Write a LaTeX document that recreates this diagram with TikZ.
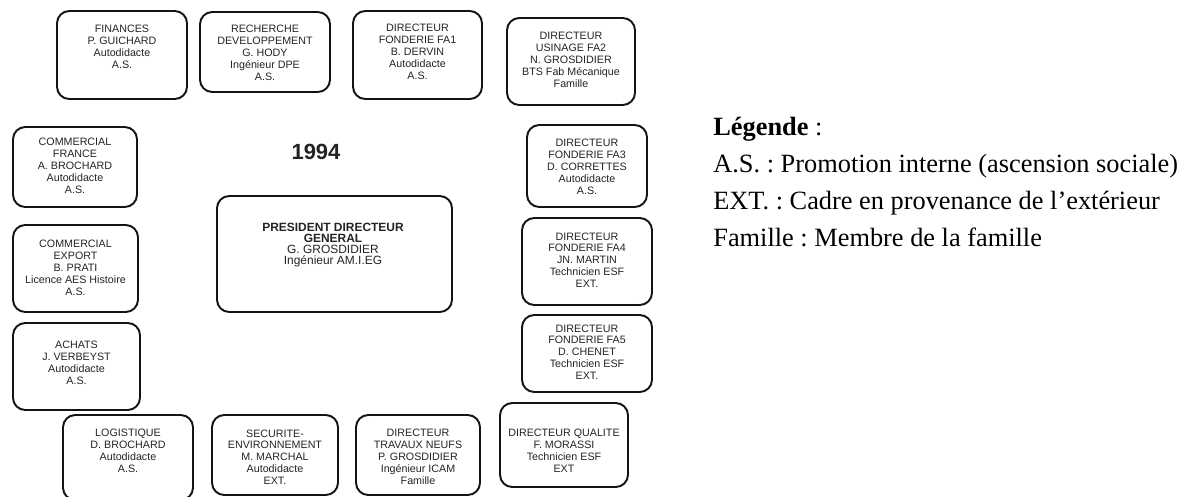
\documentclass[tikz,border=0pt]{standalone}
\usepackage{fontspec}
\setmainfont{Liberation Serif}
\setsansfont{Liberation Sans}
\usetikzlibrary{positioning, fit}
\definecolor{orgblack}{RGB}{20, 20, 20}
\definecolor{orgtext}{RGB}{35, 35, 35}
% box name, x1, y1, x2, y2, text centre y, text
\newcommand{\orgposte}[7]{%
    \node[orgbox, fit={(#2,#3) (#4,#5)}] (#1) {};
    \node[boxtext] (#1-t) at ({(#2+#4)/2}, #6) {#7};
}

\begin{document}
\begin{tikzpicture}[
    x=0.02cm, y=-0.02cm,
    orgbox/.style={draw=orgblack, line width=1.1pt, rounded corners=7pt, inner sep=0pt},
    boxtext/.style={align=center, text=orgtext, inner sep=0pt,
        font=\sffamily\fontsize{6.1}{6.75}\selectfont},
    pdgtext/.style={align=center, text=orgtext, inner sep=0pt,
        font=\sffamily\fontsize{6.8}{6.4}\selectfont},
    legend/.style={anchor=base west, inner sep=0pt,
        font=\frenchspacing\fontsize{15}{17}\selectfont}
]
\useasboundingbox (0,0) rectangle (1188,497);

% =============================================
% TOP ROW
% =============================================
\orgposte{fin}{57}{11}{187}{99}{47}
    {FINANCES\\P. GUICHARD\\Autodidacte\\A.S.}
\orgposte{rd}{200}{12}{330}{92}{53}
    {RECHERCHE\\DEVELOPPEMENT\\G. HODY\\Ingénieur DPE\\A.S.}
\orgposte{fa1}{353}{11}{482}{99}{52}
    {DIRECTEUR\\FONDERIE FA1\\B. DERVIN\\Autodidacte\\A.S.}
\orgposte{fa2}{507}{18}{635}{105}{60}
    {DIRECTEUR\\USINAGE FA2\\N. GROSDIDIER\\BTS Fab Mécanique\\Famille}

% =============================================
% LEFT COLUMN
% =============================================
\orgposte{cfr}{13}{127}{137}{207}{166}
    {COMMERCIAL\\FRANCE\\A. BROCHARD\\Autodidacte\\A.S.}
\orgposte{cex}{13}{225}{138}{312}{268}
    {COMMERCIAL\\EXPORT\\B. PRATI\\Licence AES Histoire\\A.S.}
\orgposte{ach}{13}{323}{140}{410}{363}
    {ACHATS\\J. VERBEYST\\Autodidacte\\A.S.}

% =============================================
% RIGHT COLUMN
% =============================================
\orgposte{fa3}{527}{125}{647}{207}{167}
    {DIRECTEUR\\FONDERIE FA3\\D. CORRETTES\\Autodidacte\\A.S.}
\orgposte{fa4}{522}{218}{652}{305}{260}
    {DIRECTEUR\\FONDERIE FA4\\JN. MARTIN\\Technicien ESF\\EXT.}
\orgposte{fa5}{522}{315}{652}{392}{352}
    {DIRECTEUR\\FONDERIE FA5\\D. CHENET\\Technicien ESF\\EXT.}

% =============================================
% BOTTOM ROW
% =============================================
\orgposte{log}{63}{415}{193}{500}{451}
    {LOGISTIQUE\\D. BROCHARD\\Autodidacte\\A.S.}
\orgposte{sec}{212}{415}{338}{495}{457}
    {SECURITE-\\ENVIRONNEMENT\\M. MARCHAL\\Autodidacte\\EXT.}
\orgposte{trav}{356}{415}{480}{495}{457}
    {DIRECTEUR\\TRAVAUX NEUFS\\P. GROSDIDIER\\Ingénieur ICAM\\Famille}
\orgposte{qual}{500}{403}{628}{487}{451}
    {DIRECTEUR QUALITE\\F. MORASSI\\Technicien ESF\\EXT}

% =============================================
% CENTRE: year and president
% =============================================
\node[font=\sffamily\bfseries\fontsize{12.5}{14}\selectfont, text=orgtext] (annee) at (316,152) {1994};

\node[orgbox, fit={(217,196) (452,312)}] (pdg) {};
\node[pdgtext] (pdg-t) at (333,245)
    {\textbf{PRESIDENT DIRECTEUR}\\\textbf{GENERAL}\\G. GROSDIDIER\\Ingénieur AM.I.EG};

% =============================================
% LEGEND
% =============================================
\node[legend] (leg0) at (713,135) {\textbf{Légende} :};
\node[legend] (leg1) at (713,172) {A.S. : Promotion interne (ascension sociale)};
\node[legend] (leg2) at (713,209) {EXT. : Cadre en provenance de l’extérieur};
\node[legend] (leg3) at (713,246) {Famille : Membre de la famille};

\end{tikzpicture}
\end{document}
